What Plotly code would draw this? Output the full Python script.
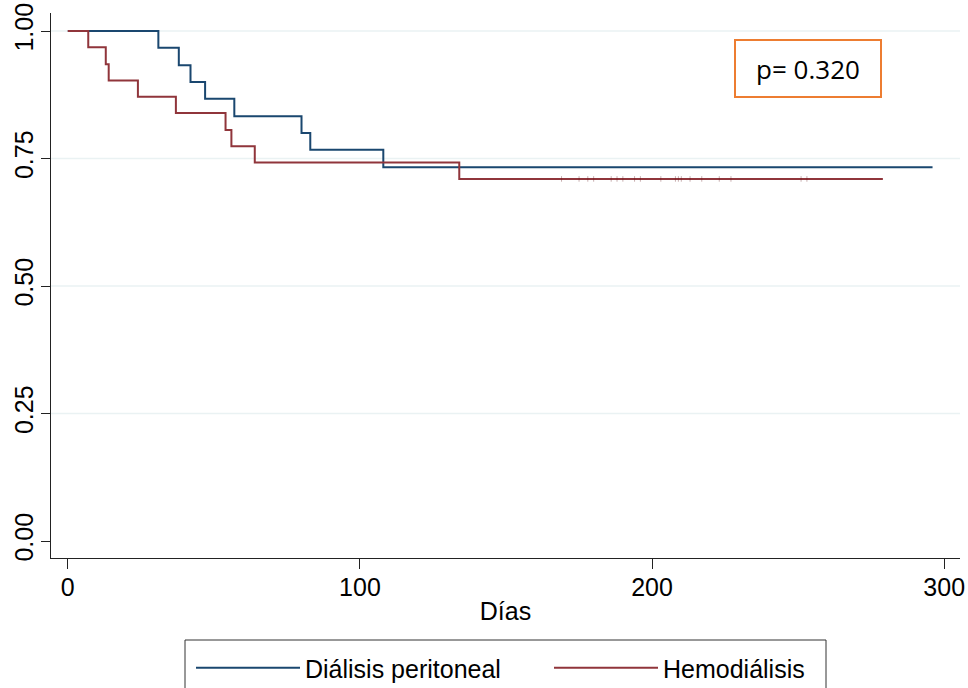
import plotly.graph_objects as go

# Kaplan-Meier step data
dp_days = [0, 31, 38, 42, 47, 57, 80, 83, 108, 296]
dp_surv = [1.000, 0.967, 0.933, 0.900, 0.867, 0.833, 0.800, 0.767, 0.733, 0.733]

hd_days = [0, 7, 13, 14, 24, 37, 54, 56, 64, 134, 279]
hd_surv = [1.000, 0.968, 0.935, 0.903, 0.871, 0.839, 0.806, 0.774, 0.742, 0.710, 0.710]

# censoring ticks on the Hemodiálisis curve
hd_cens_days = [169, 175, 178, 180, 186, 188, 190, 194, 196, 203, 208, 209, 210, 213, 217, 223, 227, 251, 253]
hd_cens_surv = [0.710] * len(hd_cens_days)

x_ticks = [0, 100, 200, 300]
y_ticks = [0.0, 0.25, 0.50, 0.75, 1.00]
y_ticktext = ["0.00", "0.25", "0.50", "0.75", "1.00"]
grid_vals = [0.25, 0.50, 0.75, 1.00]

series_names = ["Diálisis peritoneal", "Hemodiálisis"]
p_text = "p= 0.320"

BLUE = "#1a476f"
RED = "#90353b"
FONT = "Liberation Sans, Arial, sans-serif"
FS = 25

# plot area in pixels
L, R, T, B = 51, 960, 13, 558
W, H = R - L, B - T


def px_x(p):
    return (p - L) / W


def px_y(p):
    return (B - p) / H


fig = go.Figure()
fig.add_trace(go.Scatter(x=dp_days, y=dp_surv, mode="lines", line=dict(shape="hv", color=BLUE, width=2),
                         name=series_names[0]))
fig.add_trace(go.Scatter(x=hd_days, y=hd_surv, mode="lines", line=dict(shape="hv", color=RED, width=2),
                         name=series_names[1]))
fig.add_trace(go.Scatter(x=hd_cens_days, y=hd_cens_surv, mode="markers", showlegend=False, hoverinfo="skip",
                         marker=dict(symbol="line-ns-open", size=4, color="rgba(100,25,30,0.35)",
                                     line=dict(color="rgba(100,25,30,0.35)", width=1))))

for g in grid_vals:
    fig.add_shape(type="line", xref="paper", yref="y", x0=0, x1=1, y0=g, y1=g,
                  line=dict(color="#eaf2f3", width=1.5), layer="below")

# legend frame
fig.add_shape(type="rect", xref="paper", yref="paper", x0=px_x(185), x1=px_x(826), y0=px_y(640), y1=px_y(700),
              line=dict(color="#333", width=1), fillcolor="rgba(0,0,0,0)", layer="above")

fig.add_annotation(xref="paper", yref="paper", x=px_x(808), y=px_y(68.5),
                   text=p_text, showarrow=False, font=dict(family="Open Sans, sans-serif", size=26, color="#000"),
                   bordercolor="#ED7D31", borderwidth=2, borderpad=0, width=144, height=55,
                   xanchor="center", yanchor="middle", bgcolor="white")

fig.update_layout(
    width=968, height=688,
    margin=dict(l=L, r=968 - R, t=T, b=688 - B, autoexpand=False),
    paper_bgcolor="white", plot_bgcolor="white",
    font=dict(family=FONT, size=FS, color="#000"),
    showlegend=True,
    legend=dict(orientation="h", xanchor="left", yanchor="top", x=px_x(191), y=px_y(645),
                borderwidth=0, bgcolor="rgba(0,0,0,0)", font=dict(size=FS, family=FONT),
                itemwidth=104, entrywidth=239, entrywidthmode="pixels", tracegroupgap=0),
)
fig.update_xaxes(range=[-5.75, 305.4], tickvals=x_ticks, ticks="outside", ticklen=10, tickwidth=1.2,
                 tickcolor="#222", showline=True, linecolor="#222", linewidth=1.2, showgrid=False, zeroline=False,
                 ticklabelstandoff=-3,
                 title=dict(text="Días", standoff=2, font=dict(size=FS)), tickfont=dict(size=FS), automargin=False)
fig.update_yaxes(range=[-0.0333, 1.0353], tickvals=y_ticks, ticktext=y_ticktext, tickangle=-90, ticks="outside",
                 ticklen=9, tickwidth=1.2, tickcolor="#222", showline=True, linecolor="#222", linewidth=1.2,
                 ticklabelstandoff=-2,
                 showgrid=False, zeroline=False, tickfont=dict(size=FS), automargin=False)

fig.write_html("out.html")
